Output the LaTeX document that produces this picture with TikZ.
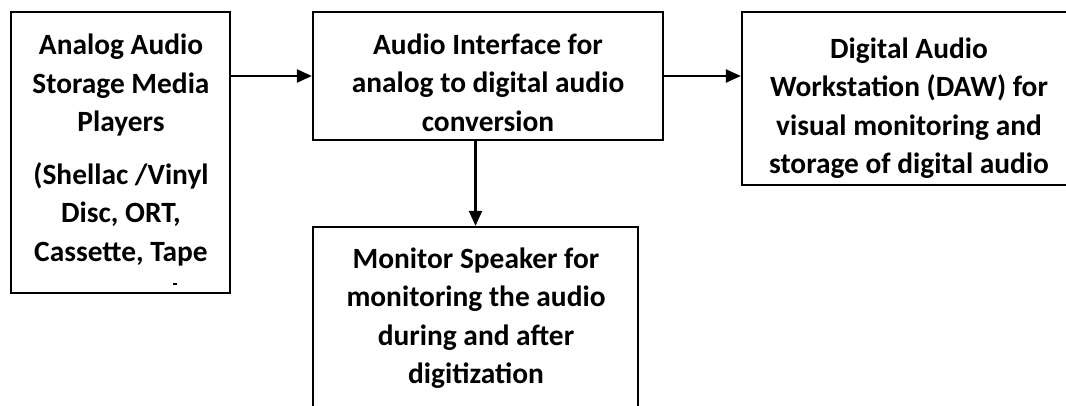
\documentclass[tikz,border=0pt]{standalone}
\usepackage{fontspec}
\setmainfont{Carlito}
\usetikzlibrary{arrows.meta}

\begin{document}
\begin{tikzpicture}[x=1pt, y=-1pt,
    frame/.style={draw, line width=2.3pt, inner sep=0pt, fill=none},
    blocktext/.style={align=center, inner sep=0pt, anchor=base,
      font=\fontsize{29.4}{38.5}\selectfont\bfseries},
    conn/.style={line width=2.3pt, -{Triangle[length=15pt, width=13pt]}}]
  \clip (0,0) rectangle (1066,405);
  \fill[white] (0,0) rectangle (1066,405);

  % block frames
  \node[frame, minimum width=219pt, minimum height=281pt] (pl)  at (120.5,152.5) {};
  \node[frame, minimum width=350pt, minimum height=128pt] (ai)  at (488,76) {};
  \node[frame, minimum width=338pt, minimum height=173pt] (daw) at (911,98.5) {};
  \node[frame, minimum width=325pt, minimum height=193pt] (ms)  at (475.5,323.5) {};

  % block texts (anchored at the baseline of their last line)
  \node[blocktext] (pltext) at (121,261) {Analog Audio\\Storage Media\\Players\\[14pt]
    (Shellac /Vinyl\\Disc, ORT,\\Cassette, Tape};
  \node[blocktext] (aitext) at (488,131) {Audio Interface for\\analog to digital audio\\conversion};
  \node[blocktext] (dawtext) at (909,173.5) {Digital Audio\\Workstation (DAW) for\\visual monitoring and\\storage of digital audio};
  \node[blocktext] (mstext) at (476,383.5) {Monitor Speaker for\\monitoring the audio\\during and after\\digitization};

  % clipped remnant of a further line in the first block
  \draw[line width=1.3pt] (173,284) -- (177,284);

  % signal flow
  \draw[conn] (ai.west -| pl.east) -- (ai.west);
  \draw[conn] (ai.east) -- (ai.east -| daw.west);
  \draw[conn] (ms.north |- ai.south) -- (ms.north);
\end{tikzpicture}
\end{document}
